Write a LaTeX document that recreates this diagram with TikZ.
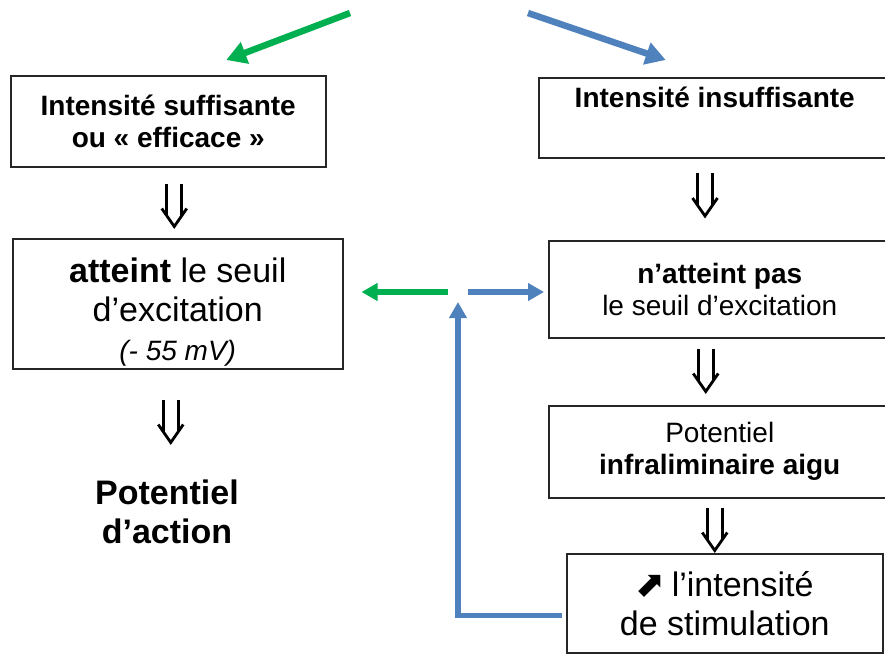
\documentclass[tikz,border=0pt]{standalone}
\usepackage{fontspec}
\setmainfont{Liberation Sans}
\newfontfamily\symfont{DejaVu Sans}
\usetikzlibrary{arrows.meta,calc}
\definecolor{offgreen}{RGB}{0,176,80}
\definecolor{offblue}{RGB}{79,129,189}
\begin{document}
\begin{tikzpicture}[x=1pt,y=-1pt,
 box/.style={draw=black!85, line width=1.5pt, rectangle, inner sep=0pt, align=center, anchor=north west},
 small/.style={font=\fontsize{28}{32}\selectfont},
 big/.style={font=\fontsize{34}{39}\selectfont},
 garrow/.style={draw=offgreen, line width=5.5pt, -{Triangle[length=16pt,width=17pt]}},
 barrow/.style={draw=offblue, line width=5.5pt, line join=miter, -{Triangle[length=16pt,width=17pt]}},
 toparrow/.style={line width=6.5pt, -{Triangle[length=20pt,width=22pt]}},
 dn/.pic={\draw[line width=2.8pt] (-7.5,0) -- (-7.5,32) (7.5,0) -- (7.5,32);
          \draw[line width=2.8pt, line join=miter] (-12.5,25) -- (0,43) -- (12.5,25);}
]
\useasboundingbox (0,0) rectangle (885,653);
\clip (0,0) rectangle (885,653);

% boxes
\node[box, small, minimum width=315pt, minimum height=91pt] (b1) at (10,75)
  {\bfseries Intensité suffisante\\\bfseries ou « efficace »};
\node[box, small, minimum width=352pt, minimum height=80pt] (b2) at (538,77)
  {\bfseries Intensité insuffisante\\\strut};
\node[box, minimum width=330pt, minimum height=130pt] (b3) at (12,238) {};
\node[big, align=center, inner sep=0pt] (t3) at ($(b3.center)+(0,8)$)
  {{\bfseries atteint} le seuil\\d’excitation\\{\fontsize{28}{36}\selectfont\itshape (- 55 mV)}};
\node[box, small, minimum width=342pt, minimum height=97pt] (b4) at (548,240)
  {{\bfseries n’atteint pas}\\le seuil d’excitation};
\node[box, small, minimum width=342pt, minimum height=92pt] (b5) at (548,405)
  {Potentiel\\{\bfseries infraliminaire aigu}};
\node[box, big, minimum width=316pt, minimum height=99pt] (b6) at (566,553)
  {{\symfont\fontsize{36}{39}\selectfont ⬈}\,l’intensité\\de stimulation};
\node[big, font=\fontsize{34}{39}\selectfont\bfseries, align=center] (pa) at (167,512)
  {Potentiel\\d’action};

% double arrows
\pic at ($(b1.south)+(6,16)$) {dn};
\pic at ($(b3.south)+(-7,30)$) {dn};
\pic at (705,173) {dn};
\pic at ($(b4.south)+(-14,10)$) {dn};
\pic at ($(b5.south)+(-5,9)$) {dn};

% top arrows
\coordinate (gs) at (350,13);
\coordinate (bs) at (528,13);
\draw[garrow, toparrow] (gs) -- ([shift={(58,-15)}]b1.north);
\draw[barrow, toparrow] (bs) -- ([shift={(-49,-17)}]b2.north);

% middle arrows
\coordinate (hub) at (458,292);
\draw[garrow] ([xshift=-10pt]hub) -- ([xshift=18pt]b3.east |- hub);
\draw[barrow] ([xshift=10pt]hub) -- ([xshift=-4pt]b4.west |- hub);
\draw[barrow] ([shift={(-4,12)}]b6.west) -| ([yshift=-10pt]hub);
\end{tikzpicture}
\end{document}
